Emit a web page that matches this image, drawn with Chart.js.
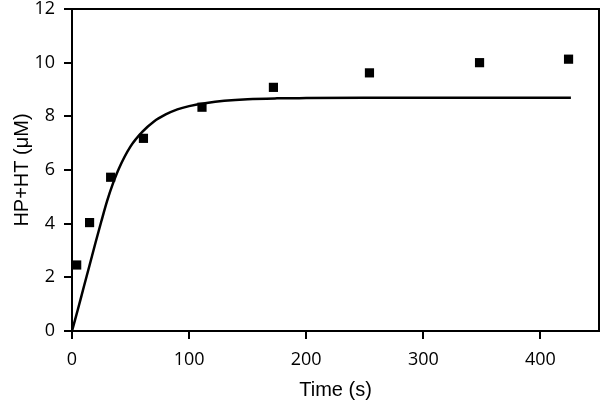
<!DOCTYPE html>
<html>
<head>
<meta charset="utf-8">
<script src="https://cdn.jsdelivr.net/npm/chart.js@4.4.0/dist/chart.umd.min.js"></script>
<style>
  body { margin: 0; background: #fff; }
  canvas { display: block; }
</style>
</head>
<body>
<canvas id="grafico" width="600" height="416"></canvas>
<script>
// measured points (time in s, HP+HT in uM)
const tiempos = [4, 15, 33, 61, 111, 172, 254, 348, 424];
const concentraciones = [2.46, 4.04, 5.73, 7.18, 8.34, 9.08, 9.62, 10.0, 10.13];

// fitted curve
const ajusteT = [0, 5, 10, 15, 20, 25, 30, 35, 40, 50, 60, 70, 80, 90, 100, 115, 130, 150, 175, 200, 250, 300, 350, 426];
const ajusteY = [0, 0.8, 1.63, 2.45, 3.28, 4.08, 4.85, 5.5, 6.05, 6.88, 7.42, 7.81, 8.07, 8.26, 8.38, 8.5, 8.58, 8.64, 8.67, 8.68, 8.69, 8.69, 8.69, 8.69];

const ticksX = [0, 100, 200, 300, 400];
const ticksY = [0, 2, 4, 6, 8, 10, 12];

const fuenteTicks = { family: "'Open Sans', sans-serif", size: 18 };
const fuenteTitulo = { family: "'Liberation Sans', Arial, sans-serif", size: 20 };

// box around the plot area
const marco = {
  id: "marco",
  afterDraw(chart) {
    const { ctx, chartArea } = chart;
    ctx.save();
    ctx.strokeStyle = "#000";
    ctx.lineWidth = 2;
    ctx.strokeRect(chartArea.left, chartArea.top, chartArea.right - chartArea.left, chartArea.bottom - chartArea.top);
    ctx.restore();
  }
};

new Chart(document.getElementById("grafico"), {
  data: {
    datasets: [
      {
        type: "scatter",
        data: tiempos.map((t, i) => ({ x: t, y: concentraciones[i] })),
        pointStyle: "rect",
        pointRadius: 6.5,
        pointBorderWidth: 0,
        backgroundColor: "#000"
      },
      {
        type: "line",
        data: ajusteT.map((t, i) => ({ x: t, y: ajusteY[i] })),
        borderColor: "#000",
        borderWidth: 2.5,
        pointRadius: 0,
        cubicInterpolationMode: "monotone",
        fill: false
      }
    ]
  },
  options: {
    responsive: false,
    animation: false,
    layout: { autoPadding: false, padding: { top: 9, right: 1, left: 0, bottom: 0 } },
    plugins: { legend: { display: false }, tooltip: { enabled: false } },
    scales: {
      x: {
        type: "linear",
        min: 0,
        max: 450,
        afterFit: (s) => { s.height = 85; s.paddingLeft = 0; s.paddingRight = 0; },
        afterBuildTicks: (s) => { s.ticks = ticksX.map(v => ({ value: v })); },
        ticks: { font: fuenteTicks, color: "#000", padding: 10 },
        grid: { drawOnChartArea: false, drawTicks: true, tickLength: 8, color: "#000", lineWidth: 2 },
        border: { color: "#000", width: 2 },
        title: { display: true, text: "Time (s)", font: fuenteTitulo, color: "#000", padding: { top: 0, bottom: 14 } }
      },
      y: {
        min: 0,
        max: 12,
        afterFit: (s) => { s.width = 72; s.paddingTop = 0; s.paddingBottom = 0; },
        afterBuildTicks: (s) => { s.ticks = ticksY.map(v => ({ value: v })); },
        ticks: { font: fuenteTicks, color: "#000", padding: 9 },
        grid: { drawOnChartArea: false, drawTicks: true, tickLength: 8, color: "#000", lineWidth: 2 },
        border: { color: "#000", width: 2 },
        title: { display: true, text: "HP+HT (μM)", font: fuenteTitulo, color: "#000", padding: { top: 10, bottom: 0 } }
      }
    }
  },
  plugins: [marco]
});
</script>
</body>
</html>
